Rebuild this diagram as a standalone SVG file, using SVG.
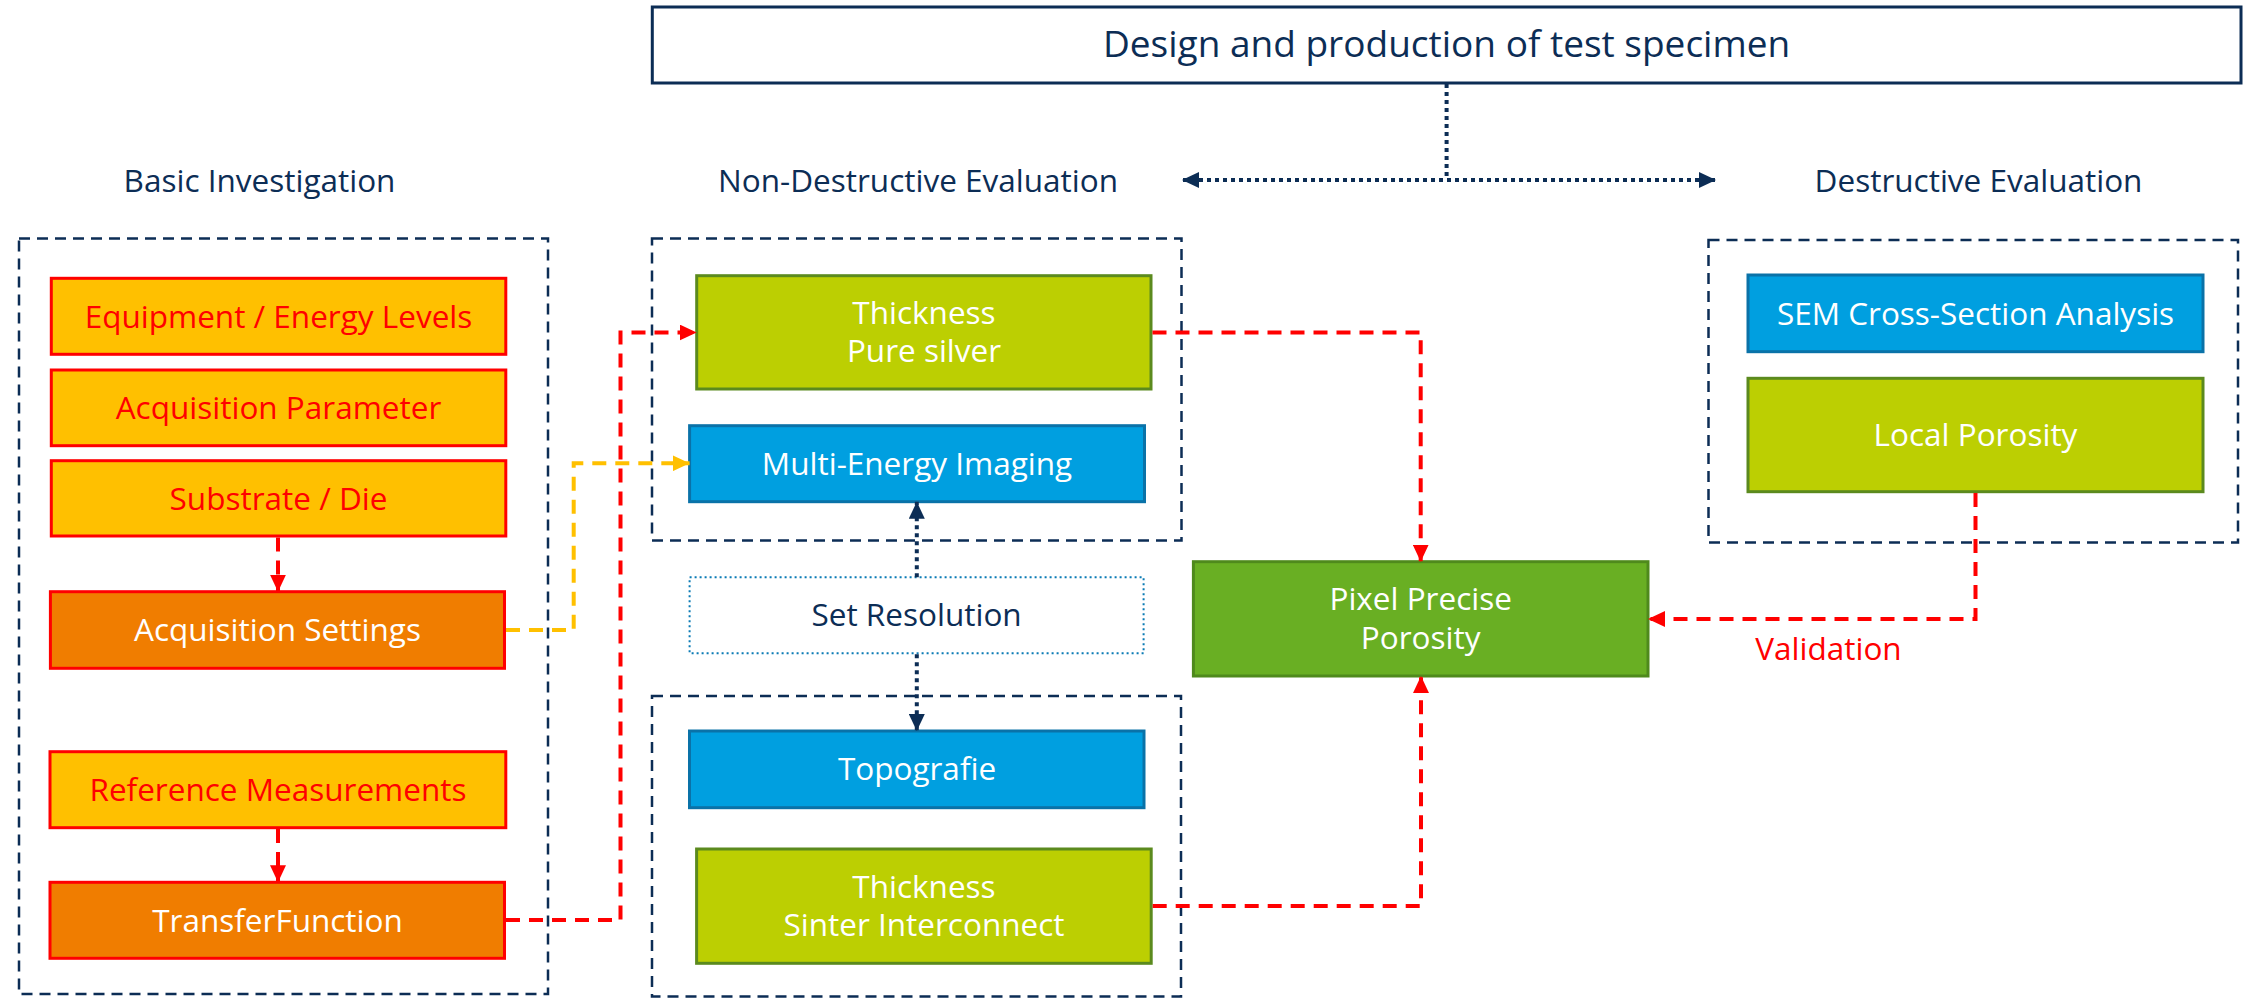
<svg xmlns="http://www.w3.org/2000/svg" width="2247" height="998" viewBox="0 0 2247 998">
<style>
text{font-family:"Open Sans","Noto Sans","Liberation Sans",sans-serif;font-size:31.5px;text-anchor:middle}
.hd{fill:#0c2d55}
.wt{fill:#ffffff}
.rt{fill:#ff0000}
.grp{fill:none;stroke:#0c2d55;stroke-width:2.5;stroke-dasharray:11 7}
.yel{fill:#ffc000;stroke:#ff0000;stroke-width:3}
.org{fill:#f07d00;stroke:#ff0000;stroke-width:3}
.lime{fill:#bccf02;stroke:#5b8a1e;stroke-width:3}
.blue{fill:#009fe0;stroke:#0a72a8;stroke-width:3}
.grn{fill:#69af23;stroke:#4f8a1c;stroke-width:3}
.red{fill:none;stroke:#ff0000;stroke-width:4;stroke-dasharray:14 9}
.ylw{fill:none;stroke:#ffc000;stroke-width:4;stroke-dasharray:14 9}
.nav{fill:none;stroke:#0c2d55;stroke-width:4;stroke-dasharray:4 4}
</style>
<defs>
<marker id="ar" markerUnits="userSpaceOnUse" markerWidth="18" markerHeight="16" refX="17" refY="8" orient="auto"><path d="M0,0 L17,8 L0,16 z" fill="#ff0000"/></marker>
<marker id="ay" markerUnits="userSpaceOnUse" markerWidth="18" markerHeight="16" refX="17" refY="8" orient="auto"><path d="M0,0 L17,8 L0,16 z" fill="#ffc000"/></marker>
<marker id="an" markerUnits="userSpaceOnUse" markerWidth="18" markerHeight="16" refX="17" refY="8" orient="auto"><path d="M0,0 L17,8 L0,16 z" fill="#0c2d55"/></marker>
<marker id="ans" markerUnits="userSpaceOnUse" markerWidth="18" markerHeight="16" refX="1" refY="8" orient="auto"><path d="M17,0 L0,8 L17,16 z" fill="#0c2d55"/></marker>
</defs>
<rect width="2247" height="998" fill="#ffffff"/>

<g id="groups">
<rect class="grp" x="19" y="238.5" width="529" height="755.5"/>
<rect class="grp" x="652" y="238.5" width="529.5" height="302"/>
<rect class="grp" x="652" y="696" width="529" height="300.5"/>
<rect class="grp" x="1708.5" y="240" width="529.5" height="302.5"/>
</g>

<g id="headings">
<text class="hd" x="259.5" y="192">Basic Investigation</text>
<text class="hd" x="918" y="192">Non-Destructive Evaluation</text>
<text class="hd" x="1978.5" y="192">Destructive Evaluation</text>
</g>

<g id="title">
<rect x="652.3" y="7" width="1588.7" height="76" fill="#ffffff" stroke="#0c2d55" stroke-width="3"/>
<text class="hd" x="1446.6" y="57" style="font-size:37px">Design and production of test specimen</text>
</g>

<g id="equipment"><rect class="yel" x="51.3" y="278.3" width="454.5" height="76"/><text class="rt" x="278.5" y="327.5">Equipment / Energy Levels</text></g>
<g id="acq-param"><rect class="yel" x="51.3" y="370" width="454.5" height="75.7"/><text class="rt" x="278.5" y="419">Acquisition Parameter</text></g>
<g id="substrate"><rect class="yel" x="51.3" y="460.7" width="454.5" height="75.3"/><text class="rt" x="278.5" y="509.5">Substrate / Die</text></g>
<g id="acq-settings"><rect class="org" x="50.4" y="591.7" width="454.1" height="76.6"/><text class="wt" x="277.5" y="641">Acquisition Settings</text></g>
<g id="ref-meas"><rect class="yel" x="50" y="751.7" width="455.8" height="76"/><text class="rt" x="278" y="801">Reference Measurements</text></g>
<g id="transfer"><rect class="org" x="50" y="882.3" width="454.5" height="76"/><text class="wt" x="277.5" y="931.5">TransferFunction</text></g>

<g id="thick-silver"><rect class="lime" x="696.7" y="275.7" width="454.3" height="113.3"/><text class="wt" x="924" y="324">Thickness</text><text class="wt" x="924" y="362">Pure silver</text></g>
<g id="multi-energy"><rect class="blue" x="689.6" y="425.7" width="454.9" height="76"/><text class="wt" x="917" y="475">Multi-Energy Imaging</text></g>
<g id="set-res"><rect x="689.6" y="577.3" width="454" height="76" fill="#ffffff" stroke="#0a7bb5" stroke-width="2" stroke-dasharray="2 3"/><text class="hd" x="916.6" y="625.5">Set Resolution</text></g>
<g id="topografie"><rect class="blue" x="689.5" y="731" width="454.5" height="76.7"/><text class="wt" x="917" y="780">Topografie</text></g>
<g id="thick-sinter"><rect class="lime" x="696.6" y="849" width="454.6" height="114.3"/><text class="wt" x="924" y="897.5">Thickness</text><text class="wt" x="924" y="935.5">Sinter Interconnect</text></g>

<g id="pixel-precise"><rect class="grn" x="1193.4" y="561.7" width="454.6" height="114.3"/><text class="wt" x="1420.7" y="610">Pixel Precise</text><text class="wt" x="1420.7" y="648.5">Porosity</text></g>

<g id="sem"><rect class="blue" x="1748" y="275" width="455" height="76.7"/><text class="wt" x="1975.5" y="324.5">SEM Cross-Section Analysis</text></g>
<g id="local-porosity"><rect class="lime" x="1748" y="378.3" width="455" height="113.4"/><text class="wt" x="1975.5" y="446">Local Porosity</text></g>

<g id="connectors">
<path class="nav" d="M1446.6,84 V180"/>
<path class="nav" d="M1183,180 H1716" marker-start="url(#ans)" marker-end="url(#an)"/>
<path class="red" d="M278,537.5 V591.7" marker-end="url(#ar)"/>
<path class="red" d="M278,829 V882.3" marker-end="url(#ar)"/>
<path class="ylw" d="M506,630 H573.7 V463.3 H689.6" marker-end="url(#ay)"/>
<path class="red" d="M506,920 H620.5 V332.5 H696.7" marker-end="url(#ar)"/>
<path class="red" d="M1152.5,332.5 H1420.7 V561.7" marker-end="url(#ar)"/>
<path class="red" d="M1152.7,906 H1421 V676" marker-end="url(#ar)"/>
<path class="red" d="M1975.5,493 V619 H1648" marker-end="url(#ar)"/>
<path class="nav" d="M916.8,577.3 V501.7" marker-end="url(#an)"/>
<path class="nav" d="M916.8,654.3 V731" marker-end="url(#an)"/>
<text class="rt" x="1828.5" y="660">Validation</text>
</g>
</svg>
